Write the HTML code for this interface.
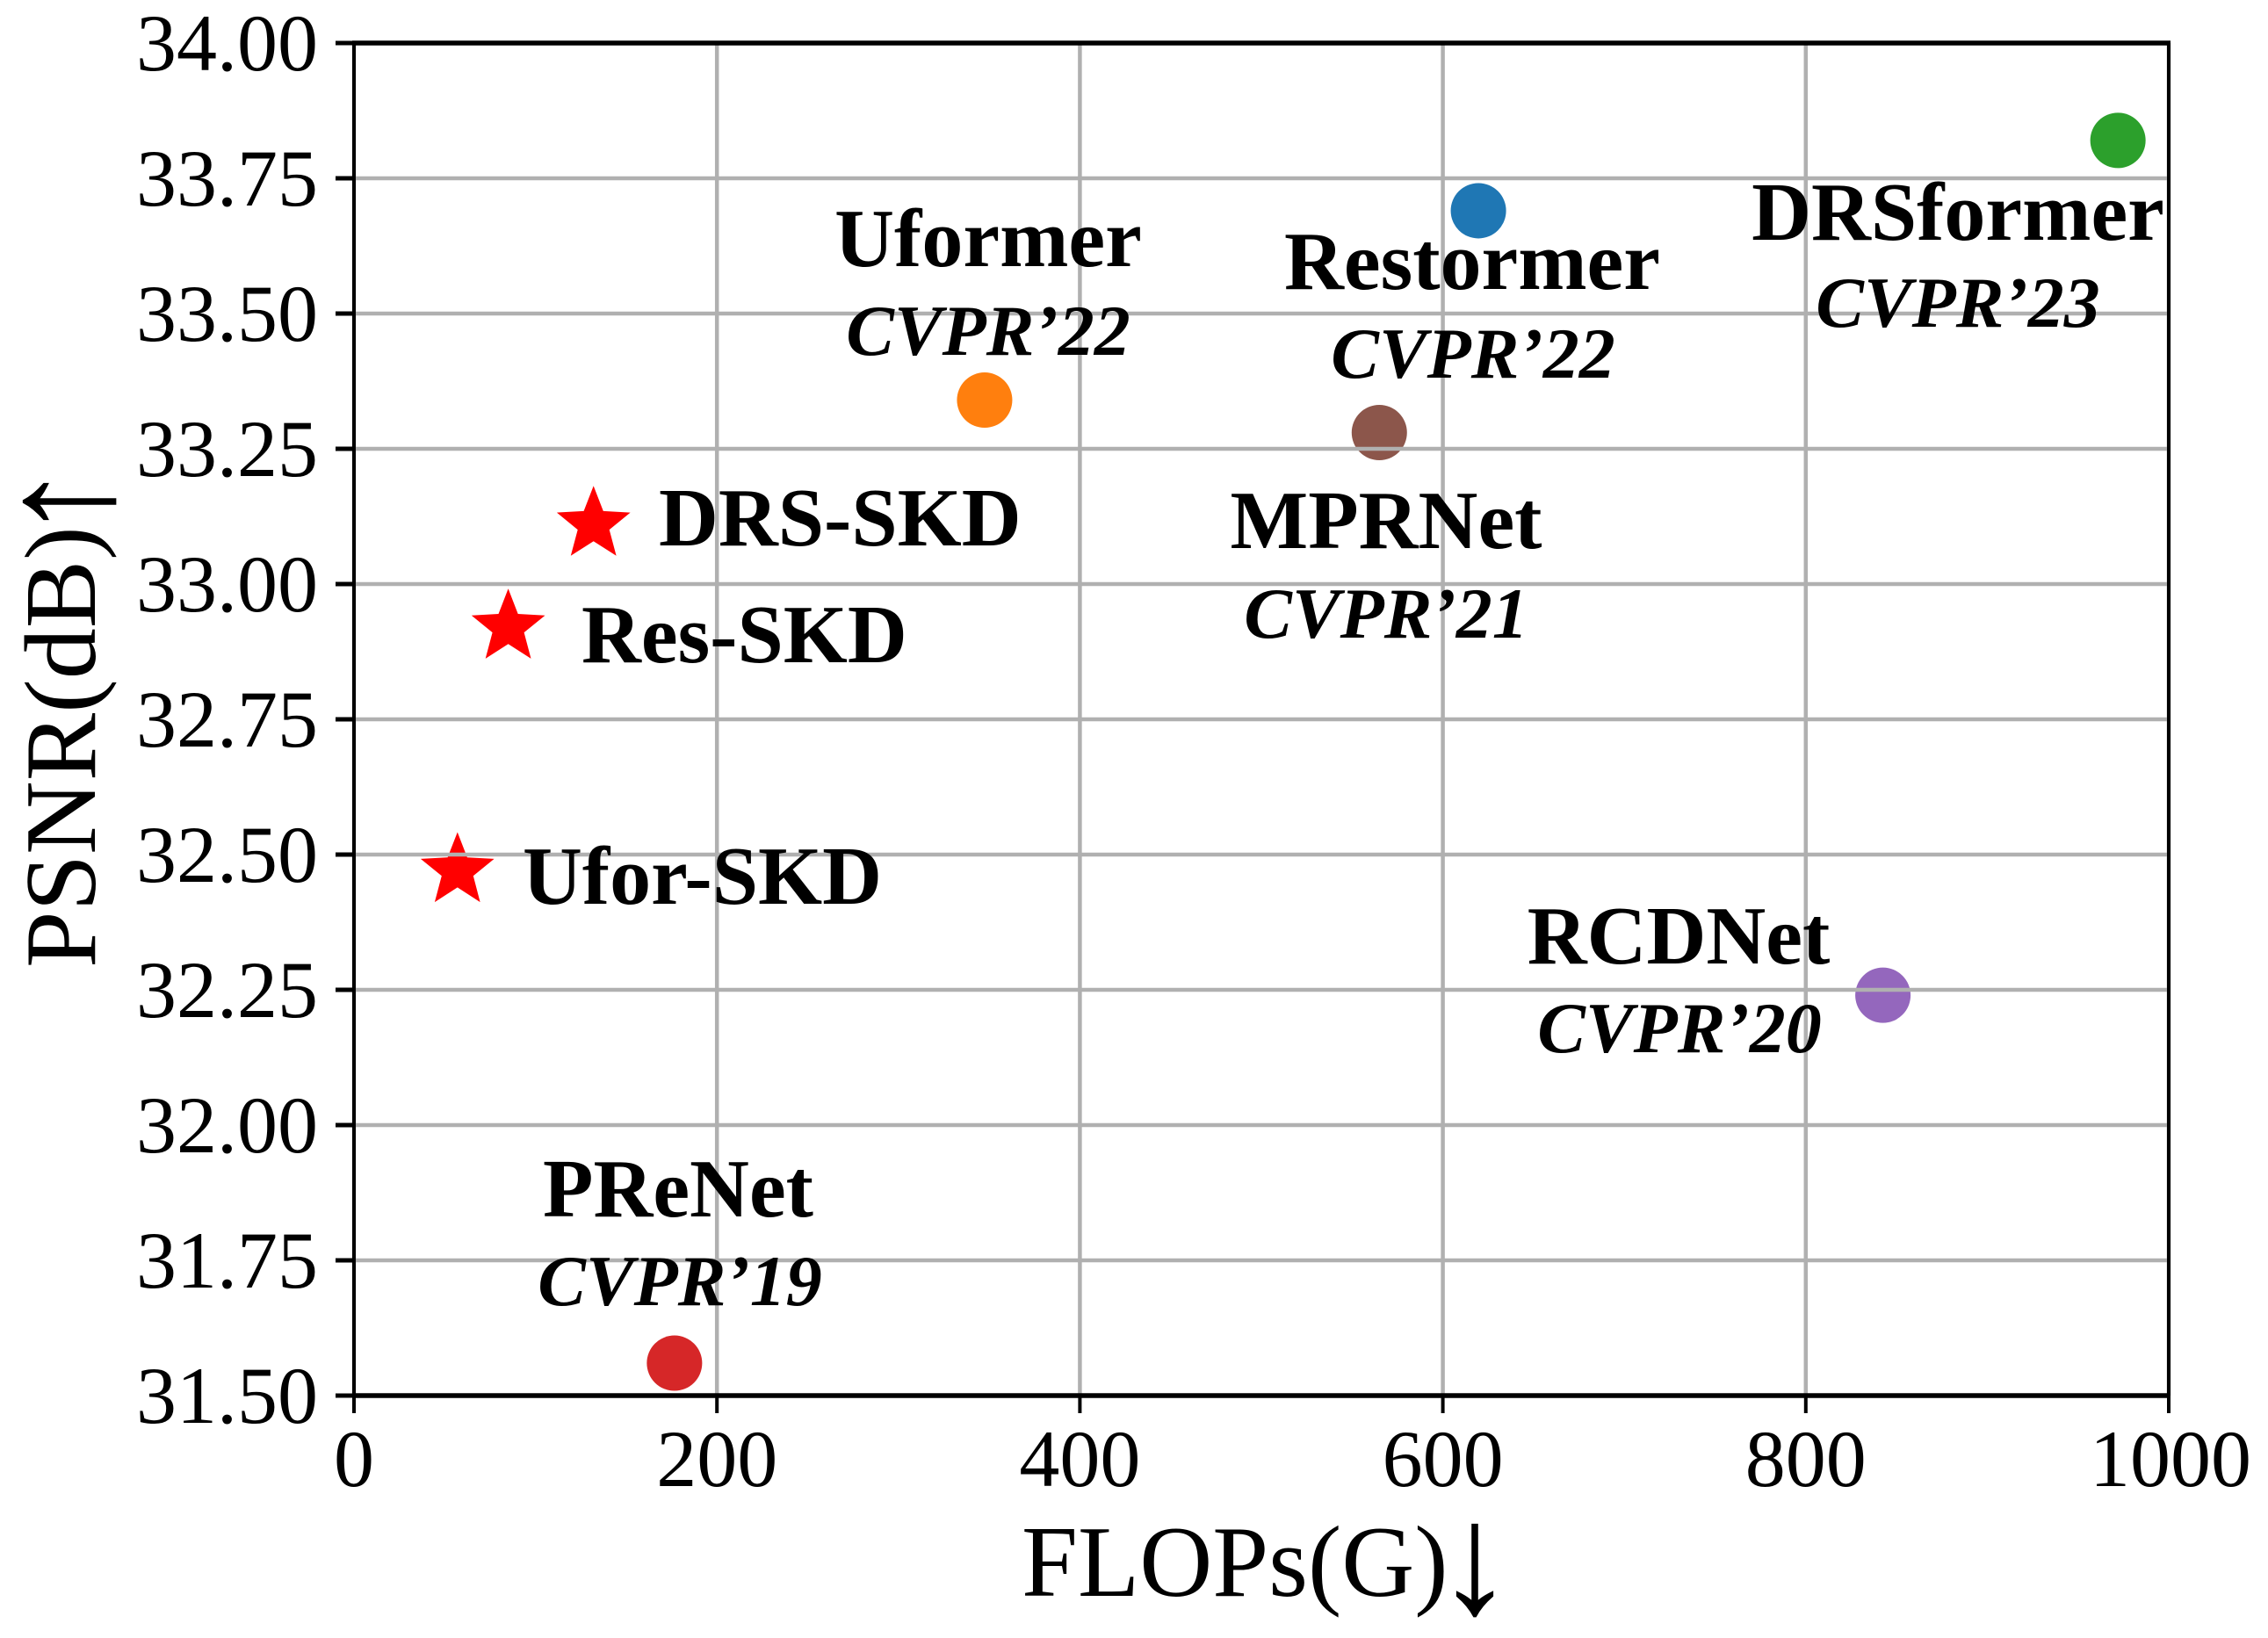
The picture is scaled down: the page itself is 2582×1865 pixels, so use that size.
<!DOCTYPE html>
<html lang="en">
<head>
<meta charset="utf-8">
<title>PSNR vs FLOPs</title>
<style>
html,body{margin:0;padding:0;background:#fff;}
svg{display:block;font-family:"Liberation Serif",serif;}
.ann{font-weight:700;font-size:94px;fill:#000;text-anchor:middle;}
.ven{font-weight:700;font-style:italic;font-size:82px;fill:#000;text-anchor:middle;}
.left{text-anchor:start;}
</style>
</head>
<body>
<svg id="chart" xmlns="http://www.w3.org/2000/svg" width="2582" height="1865" viewBox="0 0 2582 1865">
<rect width="2582" height="1865" fill="#fff"/>
<g id="markers"></g>
<g id="grid"></g>
<g id="axes"></g>
<g>
<text class="ann" x="1125" y="303">Uformer</text>
<text class="ven" x="1125" y="404">CVPR’22</text>
<text class="ann" x="1676" y="329">Restormer</text>
<text class="ven" x="1677" y="430">CVPR’22</text>
<text class="ann" x="2229" y="273">DRSformer</text>
<text class="ven" x="2229" y="372">CVPR’23</text>
<text class="ann" x="1578" y="624">MPRNet</text>
<text class="ven" x="1578" y="726">CVPR’21</text>
<text class="ann" x="1911" y="1097">RCDNet</text>
<text class="ven" x="1912" y="1198">CVPR’20</text>
<text class="ann" x="772" y="1385">PReNet</text>
<text class="ven" x="774" y="1486">CVPR’19</text>
<text class="ann left" x="750" y="621">DRS-SKD</text>
<text class="ann left" x="662" y="754">Res-SKD</text>
<text class="ann left" x="595" y="1029">Ufor-SKD</text>
</g>
<text x="1163" y="1817" font-size="115" text-anchor="start">FLOPs(G)</text>
<text x="1679" y="1836" font-size="180" text-anchor="middle">↓</text>
<text transform="translate(108,1102) rotate(-90)" font-size="116" text-anchor="start">PSNR(dB)</text>
<text transform="translate(127,571) rotate(-90)" font-size="180" text-anchor="middle">↑</text>
</svg>
<script>
const circleNames = ['Restormer', 'Uformer', 'DRSformer', 'MPRNet', 'RCDNet', 'PReNet'];
const circleFlops = [619.6, 347.5, 972, 565, 842.5, 176.6];
const circlePsnr = [33.69, 33.34, 33.82, 33.28, 32.24, 31.56];
const circleColors = ['#1f77b4', '#ff7f0e', '#2ca02c', '#8c564b', '#9467bd', '#d62728'];
const starNames = ['DRS-SKD', 'Res-SKD', 'Ufor-SKD'];
const starFlops = [132, 85, 57];
const starPsnr = [33.11, 32.92, 32.47];
const xTickValues = [0, 200, 400, 600, 800, 1000];
const xTickLabels = ['0', '200', '400', '600', '800', '1000'];
const yTickValues = [34, 33.75, 33.5, 33.25, 33, 32.75, 32.5, 32.25, 32, 31.75, 31.5];
const yTickLabels = ['34.00', '33.75', '33.50', '33.25', '33.00', '32.75', '32.50', '32.25', '32.00', '31.75', '31.50'];

const NS = 'http://www.w3.org/2000/svg';
const plotLeft = 403, plotRight = 2469, plotTop = 49, plotBottom = 1589;
const xDomain = [0, 1000], yDomain = [31.5, 34];
function xScale(v) { return plotLeft + (v - xDomain[0]) / (xDomain[1] - xDomain[0]) * (plotRight - plotLeft); }
function yScale(v) { return plotBottom - (v - yDomain[0]) / (yDomain[1] - yDomain[0]) * (plotBottom - plotTop); }
function make(tag, parent, attrs) {
  const el = document.createElementNS(NS, tag);
  for (const k in attrs) el.setAttribute(k, attrs[k]);
  parent.appendChild(el);
  return el;
}
function slug(s) { return s.toLowerCase().replace(/[^a-z0-9]+/g, '-'); }

const markers = document.getElementById('markers');
const grid = document.getElementById('grid');
const axes = document.getElementById('axes');

circleNames.forEach(function (name, i) {
  const c = make('circle', markers, { cx: xScale(circleFlops[i]), cy: yScale(circlePsnr[i]), r: 31.5, fill: circleColors[i] });
  
  
});

function starPoints(cx, cy, R) {
  const pts = [];
  for (let k = 0; k < 10; k++) {
    const r = k % 2 ? R * 0.43 : R;
    const a = -Math.PI / 2 + k * Math.PI / 5;
    pts.push((cx + r * Math.cos(a)).toFixed(1) + ',' + (cy + r * Math.sin(a)).toFixed(1));
  }
  return pts.join(' ');
}
starNames.forEach(function (name, i) {
  const s = make('polygon', markers, { points: starPoints(xScale(starFlops[i]), yScale(starPsnr[i]), 44), fill: '#ff0000' });
  
  
});

xTickValues.forEach(function (v, i) {
  const x = xScale(v);
  const g = make('line', grid, { x1: x, x2: x, y1: plotTop, y2: plotBottom, stroke: '#b0b0b0', 'stroke-width': 4.5 });
  
  
  const t = make('line', axes, { x1: x, x2: x, y1: plotBottom, y2: plotBottom + 20, stroke: '#000', 'stroke-width': 4 });
  
  
  const l = make('text', axes, { x: x + (i === 5 ? 2 : 0), y: 1692, 'font-size': 92, 'text-anchor': 'middle', fill: '#000' });
  l.textContent = xTickLabels[i];
  
  
});

yTickValues.forEach(function (v, i) {
  const y = yScale(v);
  const g = make('line', grid, { x1: plotLeft, x2: plotRight, y1: y, y2: y, stroke: '#b0b0b0', 'stroke-width': 4.5 });
  
  
  const t = make('line', axes, { x1: plotLeft - 21, x2: plotLeft, y1: y, y2: y, stroke: '#000', 'stroke-width': 5 });
  
  
  const l = make('text', axes, { x: 362, y: y + 31, 'font-size': 92, 'text-anchor': 'end', fill: '#000' });
  l.textContent = yTickLabels[i];
  
  
});

const spineTop = make('line', axes, { x1: plotLeft - 2, x2: plotRight + 2, y1: plotTop, y2: plotTop, stroke: '#000', 'stroke-width': 5.5 });


const spineBottom = make('line', axes, { x1: plotLeft - 2, x2: plotRight + 2, y1: plotBottom, y2: plotBottom, stroke: '#000', 'stroke-width': 5.5 });


const spineLeft = make('line', axes, { x1: plotLeft, x2: plotLeft, y1: plotTop, y2: plotBottom, stroke: '#000', 'stroke-width': 4 });


const spineRight = make('line', axes, { x1: plotRight, x2: plotRight, y1: plotTop, y2: plotBottom, stroke: '#000', 'stroke-width': 4 });


</script>
</body>
</html>
